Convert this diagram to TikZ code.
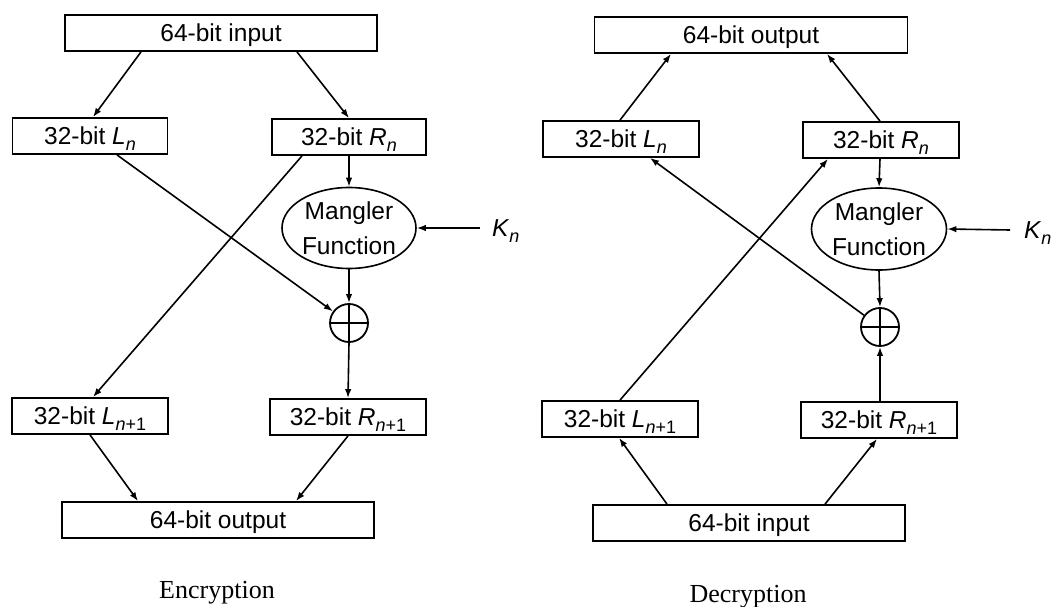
\documentclass[tikz,border=0pt]{standalone}
\usepackage{fontspec}
\setmainfont{Liberation Sans}
\newfontfamily\serifcap{Liberation Serif}
\usetikzlibrary{arrows.meta,shapes.geometric}
\newcommand{\lowsub}[1]{\raisebox{-6pt}{\fontsize{18}{18}\selectfont #1}}
\begin{document}
\begin{tikzpicture}[x=1pt,y=-1pt,
  box/.style={draw, line width=1.8pt, minimum height=36pt, inner sep=0pt,
              text height=17pt, text depth=0pt, font=\fontsize{24.5}{28}\selectfont},
  conn/.style={line width=1.6pt, -{Latex[length=9pt,width=6.5pt]}},
  mang/.style={ellipse, draw, line width=1.6pt, minimum width=134pt, minimum height=81pt,
               inner sep=0pt, align=center, font=\fontsize{24.5}{35}\selectfont},
  xorc/.style={circle, draw, line width=1.8pt, minimum size=38pt, inner sep=0pt},
  keylbl/.style={font=\fontsize{24.5}{28}\selectfont, inner sep=0pt, anchor=base west},
  caplbl/.style={font=\serifcap\fontsize{26}{30}\selectfont, inner sep=0pt, anchor=base}
]
\useasboundingbox (0,0) rectangle (1060,607);

% ---------------- Encryption ----------------
\node[box, minimum width=312pt] (inL) at (221,33) {64-bit input};
\node[box, minimum width=155pt] (Ln) at (90,136) {32-bit \textit{L}\lowsub{\textit{n}}};
\node[box, minimum width=154pt] (Rn) at (349,137) {32-bit \textit{R}\lowsub{\textit{n}}};
\node[mang] (mangL) at (349,228) {Mangler\\Function};
\node[xorc] (xorL) at (349,323) {};
\draw[line width=1.8pt] (xorL.north) -- (xorL.south) (xorL.west) -- (xorL.east);
\node[box, minimum width=156pt] (Ln1) at (90,416) {32-bit \textit{L}\lowsub{\textit{n}+1}};
\node[box, minimum width=156pt] (Rn1) at (348,417) {32-bit \textit{R}\lowsub{\textit{n}+1}};
\node[box, minimum width=312pt] (outL) at (218,520) {64-bit output};
\node[keylbl] (KnL) at (492,236) {\textit{K}\lowsub{\textit{n}}};
\coordinate (kL) at (480,228);
\node[caplbl] (encl) at (217,598) {Encryption};

\draw[conn] ([xshift=-80pt]inL.south) -- ([xshift=3pt]Ln.north);
\draw[conn] ([xshift=76pt]inL.south) -- (Rn.north);
\draw[conn] (Rn.south) -- (mangL.north);
\draw[conn] (kL) -- (mangL.east);
\draw[conn] (mangL.south) -- (xorL.north);
\draw[conn] ([xshift=27pt]Ln.south) -- (xorL);
\draw[conn] ([xshift=-47pt]Rn.south) -- ([xshift=3pt]Ln1.north);
\draw[conn] (xorL.south) -- (Rn1.north);
\draw[conn] (Ln1.south) -- ([xshift=-80pt]outL.north);
\draw[conn] (Rn1.south) -- ([xshift=78pt]outL.north);

% ---------------- Decryption ----------------
\node[box, minimum width=313pt] (outR) at (751,35) {64-bit output};
\node[box, minimum width=156pt] (LnR) at (621,139) {32-bit \textit{L}\lowsub{\textit{n}}};
\node[box, minimum width=156pt] (RnR) at (881,140) {32-bit \textit{R}\lowsub{\textit{n}}};
\node[mang, minimum width=135pt, minimum height=82pt] (mangR) at (879,229) {Mangler\\Function};
\node[xorc] (xorR) at (880,327) {};
\draw[line width=1.8pt] (xorR.north) -- (xorR.south) (xorR.west) -- (xorR.east);
\node[box, minimum width=156pt] (Ln1R) at (620,419) {32-bit \textit{L}\lowsub{\textit{n}+1}};
\node[box, minimum width=156pt] (Rn1R) at (879,420) {32-bit \textit{R}\lowsub{\textit{n}+1}};
\node[box, minimum width=312pt] (inR) at (749,523) {64-bit input};
\node[keylbl] (KnR) at (1024,238) {\textit{K}\lowsub{\textit{n}}};
\coordinate (kR) at (1010,230);
\node[caplbl] (decl) at (748,602) {Decryption};

\draw[conn] ([xshift=-1pt]LnR.north) -- ([xshift=-80pt]outR.south);
\draw[conn] ([xshift=-1pt]RnR.north) -- ([xshift=76pt]outR.south);
\draw[conn] ([xshift=-1pt]RnR.south) -- (mangR.north);
\draw[conn] (kR) -- (mangR.east);
\draw[conn] (mangR.south) -- (xorR.north);
\draw[conn] (xorR) -- ([xshift=29pt]LnR.south);
\draw[conn] (Ln1R.north) -- ([xshift=-53pt]RnR.south);
\draw[conn] ([xshift=1pt]Rn1R.north) -- (xorR.south);
\draw[conn] ([xshift=-82pt]inR.north) -- ([xshift=-1pt]Ln1R.south);
\draw[conn] ([xshift=76pt]inR.north) -- ([xshift=-2pt]Rn1R.south);
\end{tikzpicture}
\end{document}
